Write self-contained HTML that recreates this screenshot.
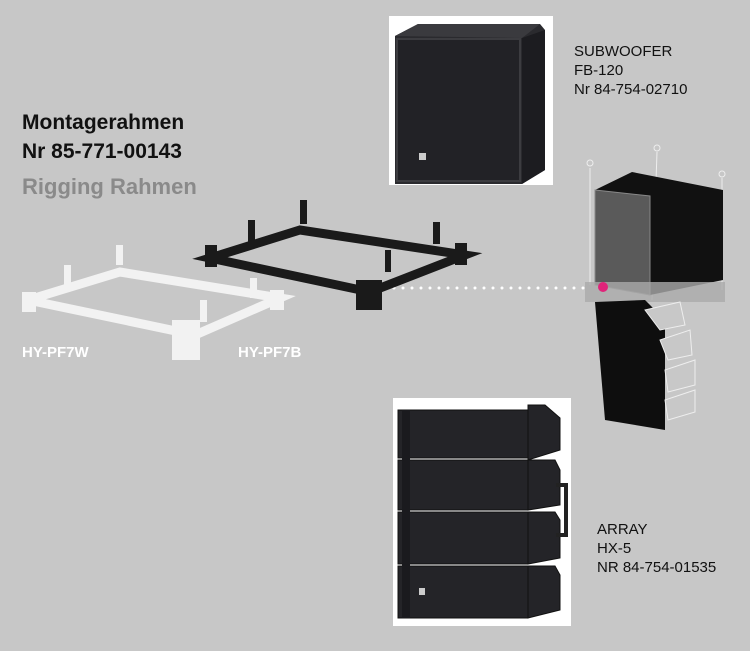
<!DOCTYPE html>
<html><head><meta charset="utf-8"><style>
html,body{margin:0;padding:0;background:#c7c7c7;}
body{width:750px;height:651px;position:relative;overflow:hidden;font-family:"Liberation Sans",sans-serif;}
.t{position:absolute;white-space:nowrap;}
</style></head><body>
<svg width="750" height="651" style="position:absolute;left:0;top:0">
<rect x="389" y="16" width="164" height="169" fill="#fff"/>
<polygon points="395,36 418,24 540,24 545,30 545,170 522,184 395,184" fill="#2a2a2e"/>
<polygon points="395,36 418,24 540,24 522,38" fill="#3a3a3e"/>
<polygon points="522,38 545,30 545,170 522,184" fill="#1c1c20"/>
<rect x="397" y="39" width="123" height="142" fill="#222226" stroke="#3c3c40" stroke-width="2"/>
<rect x="419" y="153" width="7" height="7" fill="#ccc"/>
<rect x="393" y="398" width="178" height="228" fill="#fff"/>
<g fill="#242428" stroke="#111" stroke-width="1">
<rect x="398" y="410" width="130" height="48"/>
<rect x="398" y="460" width="130" height="50"/>
<rect x="398" y="512" width="130" height="52"/>
<rect x="398" y="566" width="130" height="52"/>
<polygon points="528,405 545,405 560,418 560,450 528,460"/>
<polygon points="528,460 555,460 560,470 560,505 528,510"/>
<polygon points="528,512 555,512 560,520 560,558 528,564"/>
<polygon points="528,566 555,566 560,575 560,610 528,618"/>
</g>
<path d="M556,485 h10 v50 h-10" fill="none" stroke="#222" stroke-width="4"/>
<rect x="402" y="410" width="8" height="208" fill="#1a1a1e"/>
<rect x="419" y="588" width="6" height="7" fill="#ccc"/>
<g stroke="#eee" stroke-width="1" fill="none">
<line x1="590" y1="168" x2="590" y2="285"/><circle cx="590" cy="163" r="3"/>
<line x1="657" y1="152" x2="652" y2="300"/><circle cx="657" cy="148" r="3"/>
<line x1="722" y1="178" x2="722" y2="290"/><circle cx="722" cy="174" r="3"/>
</g>
<polygon points="595,190 632,172 723,190 723,280 650,295 595,285" fill="#111"/>
<polygon points="595,190 650,196 650,295 595,285" fill="#5a5a5a" stroke="#888"/>
<rect x="585" y="282" width="140" height="20" fill="#aaa" opacity=".8"/>
<polygon points="595,302 645,300 665,320 665,430 605,420" fill="#0e0e0e"/>
<g fill="#c8c8c8" stroke="#eee">
<polygon points="645,310 680,302 685,325 660,330"/>
<polygon points="660,340 690,330 692,355 668,360"/>
<polygon points="665,370 695,360 695,385 668,392"/>
<polygon points="665,400 695,390 695,412 668,420"/>
</g>
<line x1="394" y1="288" x2="590" y2="288" stroke="#fff" stroke-width="3" stroke-dasharray="0 9" stroke-linecap="round"/>
<circle cx="603" cy="287" r="5" fill="#e0247a"/>
<g fill="none" stroke="#1a1a1a" stroke-width="9">
<polygon points="210,258 300,230 465,255 370,292"/>
</g>
<g fill="#1a1a1a">
<rect x="205" y="245" width="12" height="22"/><rect x="248" y="220" width="7" height="24"/>
<rect x="300" y="200" width="7" height="24"/><rect x="433" y="222" width="7" height="22"/>
<rect x="385" y="250" width="6" height="22"/><rect x="356" y="280" width="26" height="30"/>
<rect x="455" y="243" width="12" height="22"/>
</g>
<g fill="none" stroke="#f2f2f2" stroke-width="9">
<polygon points="28,300 120,272 280,298 195,335"/>
</g>
<g fill="#f2f2f2">
<rect x="22" y="292" width="14" height="20"/><rect x="64" y="265" width="7" height="20"/>
<rect x="116" y="245" width="7" height="20"/><rect x="250" y="278" width="7" height="20"/>
<rect x="200" y="300" width="7" height="22"/><rect x="172" y="320" width="28" height="40"/>
<rect x="270" y="290" width="14" height="20"/>
</g>
</svg>
<div class="t" style="left:22px;top:108px;font-size:21px;font-weight:bold;color:#111;line-height:29px;">Montagerahmen<br>Nr 85-771-00143</div>
<div class="t" style="left:22px;top:174px;font-size:22px;font-weight:bold;color:#8a8a8a;">Rigging Rahmen</div>
<div class="t" style="left:22px;top:344px;font-size:15px;font-weight:bold;color:#fff;">HY-PF7W</div>
<div class="t" style="left:238px;top:344px;font-size:15px;font-weight:bold;color:#fff;">HY-PF7B</div>
<div class="t" style="left:574px;top:42px;font-size:15px;color:#111;line-height:19px;">SUBWOOFER<br>FB-120<br>Nr 84-754-02710</div>
<div class="t" style="left:597px;top:520px;font-size:15px;color:#111;line-height:19px;">ARRAY<br>HX-5<br>NR 84-754-01535</div>
</body></html>
